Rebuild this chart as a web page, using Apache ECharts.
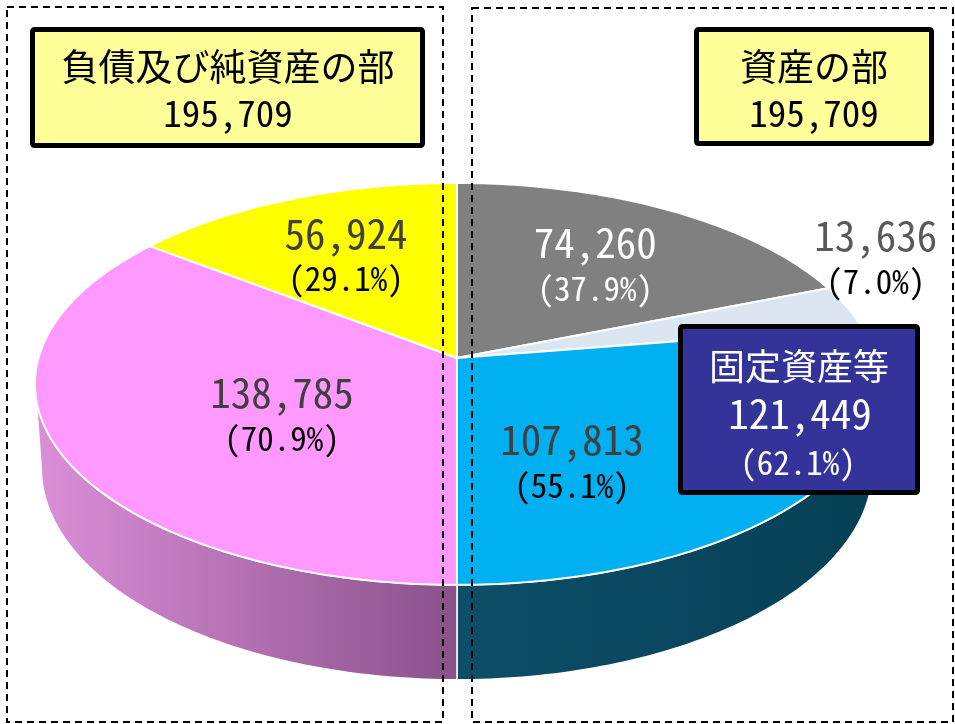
<!DOCTYPE html>
<html lang="ja">
<head>
    <meta charset="UTF-8">
    <title>資産の部・負債及び純資産の部</title>
    <script src="https://cdn.jsdelivr.net/npm/echarts@6/dist/echarts.min.js"></script>
    <style>html, body { margin: 0; padding: 0; background: #fff; }</style>
</head>
<body>
<div id="main" style="width: 955px;height:724px;"></div>
<script type="text/javascript">
    // 資産の部（右半分、上から時計回り）
    var assetValues = [74260, 13636, 107813];
    // 負債及び純資産の部（左半分、下から時計回り）
    var liabilityValues = [138785, 56924];
    // 固定資産等 = 資産の部の2番目+3番目
    var fixedAssetParts = [1, 2];

    var assetColors = ['#808080', '#DCE6F2', '#00B0F0'];
    var liabilityColors = ['#FF99FF', '#FFFF00'];

    var FONT = '"Noto Sans Mono CJK JP", "Noto Sans CJK JP", sans-serif';

    function sum(a) { return a.reduce(function (s, v) { return s + v; }, 0); }
    function fmt(v) { return v.toLocaleString('en-US'); }
    function pct(v, t) { return '(' + (v / t * 100).toFixed(1) + '%)'; }

    var assetTotal = sum(assetValues);
    var liabilityTotal = sum(liabilityValues);
    var fixedTotal = sum(fixedAssetParts.map(function (i) { return assetValues[i]; }));

    // 3D風の楕円（透視つき）
    var CX = 457, CY = 358, RX = 418.5, RY = 197.6, PERSP = 0.129, DEPTH = 82.7, SHRINK = 0.985;

    function project(deg, r, bottom) {
        var t = deg * Math.PI / 180;
        var u = r * Math.sin(t), v = -r * Math.cos(t);
        var w = 1 - PERSP * v;
        var k = bottom ? SHRINK : 1;
        return [CX + k * RX * u / w, CY + (RY * v + (bottom ? DEPTH : 0)) / w];
    }

    function arc(a0, a1, bottom) {
        var n = Math.max(2, Math.ceil(Math.abs(a1 - a0)));
        var pts = [];
        for (var i = 0; i <= n; i++) {
            pts.push(project(a0 + (a1 - a0) * i / n, 1, bottom));
        }
        return pts;
    }

    // 扇形データ（各半分を180度に割り当て）
    var slices = [];
    function addHalf(values, colors, start, total) {
        var acc = 0;
        values.forEach(function (v, i) {
            var a0 = start + acc / total * 180;
            acc += v;
            slices.push({a0: a0, a1: start + acc / total * 180, value: v, pct: pct(v, total), color: colors[i]});
        });
    }
    addHalf(assetValues, assetColors, 0, assetTotal);
    addHalf(liabilityValues, liabilityColors, 180, liabilityTotal);

    // ラベル位置（中心角からのずれ, 半径比）と色
    var labelPlace = [[0.9, 0.612], [-11.4, 1.2], [22, 0.556], [-8.4, 0.49], [-1.0, 0.622]];
    var labelColors = [['#fff', '#fff'], ['#595959', '#000'], ['#404040', '#000'], ['#404040', '#000'], ['#404040', '#000']];
    // 側面のグラデーション
    var sideColors = {2: ['#0E4E69', '#053F55'], 3: ['#DB8FD9', '#8A518A']};

    var SIL = Math.acos(-PERSP) * 180 / Math.PI; // 輪郭の角度

    var seriesData = slices.map(function (s) { return [s.a0, s.a1]; });

    var myChart = echarts.init(document.getElementById('main'));

    var option = {
        animation: false,
        series: [
            // 側面
            {
                type: 'custom',
                coordinateSystem: 'none',
                z: 1,
                silent: true,
                data: seriesData,
                renderItem: function (params, api) {
                    var i = params.dataIndex;
                    var s = Math.max(api.value(0), SIL), e = Math.min(api.value(1), 360 - SIL);
                    if (!sideColors[i] || e <= s) {
                        return {type: 'group', children: []};
                    }
                    var pts = arc(s, e, false).concat(arc(s, e, true).reverse());
                    return {
                        type: 'polygon',
                        shape: {points: pts},
                        style: {
                            fill: new echarts.graphic.LinearGradient(0, 0, 1, 0, [
                                {offset: 0, color: sideColors[i][0]},
                                {offset: 1, color: sideColors[i][1]}
                            ]),
                            stroke: '#fff',
                            lineWidth: 1.5
                        }
                    };
                }
            },
            // 上面
            {
                type: 'custom',
                coordinateSystem: 'none',
                z: 2,
                silent: true,
                data: seriesData,
                renderItem: function (params, api) {
                    var i = params.dataIndex;
                    var pts = [project(0, 0, false)].concat(arc(api.value(0), api.value(1), false));
                    return {
                        type: 'polygon',
                        shape: {points: pts},
                        style: {fill: slices[i].color, stroke: '#fff', lineWidth: 2, lineJoin: 'round'}
                    };
                }
            },
            // ラベル
            {
                type: 'custom',
                coordinateSystem: 'none',
                z: 3,
                silent: true,
                data: seriesData,
                renderItem: function (params, api) {
                    var i = params.dataIndex;
                    var mid = (api.value(0) + api.value(1)) / 2;
                    var p = project(mid + labelPlace[i][0], labelPlace[i][1], false);
                    return {
                        type: 'group',
                        children: [{
                            type: 'text',
                            x: p[0], y: p[1] - 23,
                            style: {
                                text: fmt(slices[i].value), fill: labelColors[i][0],
                                fontSize: 41, fontFamily: FONT,
                                align: 'center', verticalAlign: 'middle',
                                textAlign: 'center', textVerticalAlign: 'middle'
                            }
                        }, {
                            type: 'text',
                            x: p[0], y: p[1] + 23,
                            style: {
                                text: slices[i].pct, fill: labelColors[i][1],
                                fontSize: 33, fontFamily: FONT,
                                align: 'center', verticalAlign: 'middle',
                                textAlign: 'center', textVerticalAlign: 'middle'
                            }
                        }]
                    };
                }
            }
        ],
        graphic: [
            // 点線の枠
            {type: 'rect', z: 50, shape: {x: 7, y: 7, width: 436, height: 715},
                style: {fill: 'none', stroke: '#000', lineWidth: 2, lineDash: [7, 5]}},
            {type: 'rect', z: 50, shape: {x: 472, y: 8, width: 481, height: 714},
                style: {fill: 'none', stroke: '#000', lineWidth: 2, lineDash: [7, 5]}},
            // 見出しの箱
            {type: 'rect', z: 100, shape: {x: 32.5, y: 29.5, width: 390, height: 116, r: 2},
                style: {fill: '#FFFF99', stroke: '#000', lineWidth: 5}},
            {type: 'rect', z: 100, shape: {x: 696.5, y: 29.5, width: 235, height: 114, r: 2},
                style: {fill: '#FFFF99', stroke: '#000', lineWidth: 5}},
            {type: 'rect', z: 100, shape: {x: 680.5, y: 326.5, width: 237, height: 166, r: 2},
                style: {fill: '#333399', stroke: '#000', lineWidth: 5}},
            {type: 'text', z: 101, x: 228, y: 67,
                style: {text: '負債及び純資産の部', fill: '#000', fontSize: 37, fontFamily: FONT,
                    align: 'center', verticalAlign: 'middle', textAlign: 'center', textVerticalAlign: 'middle'}},
            {type: 'text', z: 101, x: 228, y: 113,
                style: {text: fmt(liabilityTotal), fill: '#000', fontSize: 37, fontFamily: FONT,
                    align: 'center', verticalAlign: 'middle', textAlign: 'center', textVerticalAlign: 'middle'}},
            {type: 'text', z: 101, x: 814, y: 67,
                style: {text: '資産の部', fill: '#000', fontSize: 37, fontFamily: FONT,
                    align: 'center', verticalAlign: 'middle', textAlign: 'center', textVerticalAlign: 'middle'}},
            {type: 'text', z: 101, x: 814, y: 113,
                style: {text: fmt(assetTotal), fill: '#000', fontSize: 37, fontFamily: FONT,
                    align: 'center', verticalAlign: 'middle', textAlign: 'center', textVerticalAlign: 'middle'}},
            {type: 'text', z: 101, x: 799, y: 366,
                style: {text: '固定資産等', fill: '#fff', fontSize: 36, fontFamily: FONT,
                    align: 'center', verticalAlign: 'middle', textAlign: 'center', textVerticalAlign: 'middle'}},
            {type: 'text', z: 101, x: 800, y: 413,
                style: {text: fmt(fixedTotal), fill: '#fff', fontSize: 41, fontFamily: FONT,
                    align: 'center', verticalAlign: 'middle', textAlign: 'center', textVerticalAlign: 'middle'}},
            {type: 'text', z: 101, x: 798, y: 462,
                style: {text: pct(fixedTotal, assetTotal), fill: '#fff', fontSize: 33, fontFamily: FONT,
                    align: 'center', verticalAlign: 'middle', textAlign: 'center', textVerticalAlign: 'middle'}}
        ]
    };

    myChart.setOption(option);
</script>
</body>
</html>
